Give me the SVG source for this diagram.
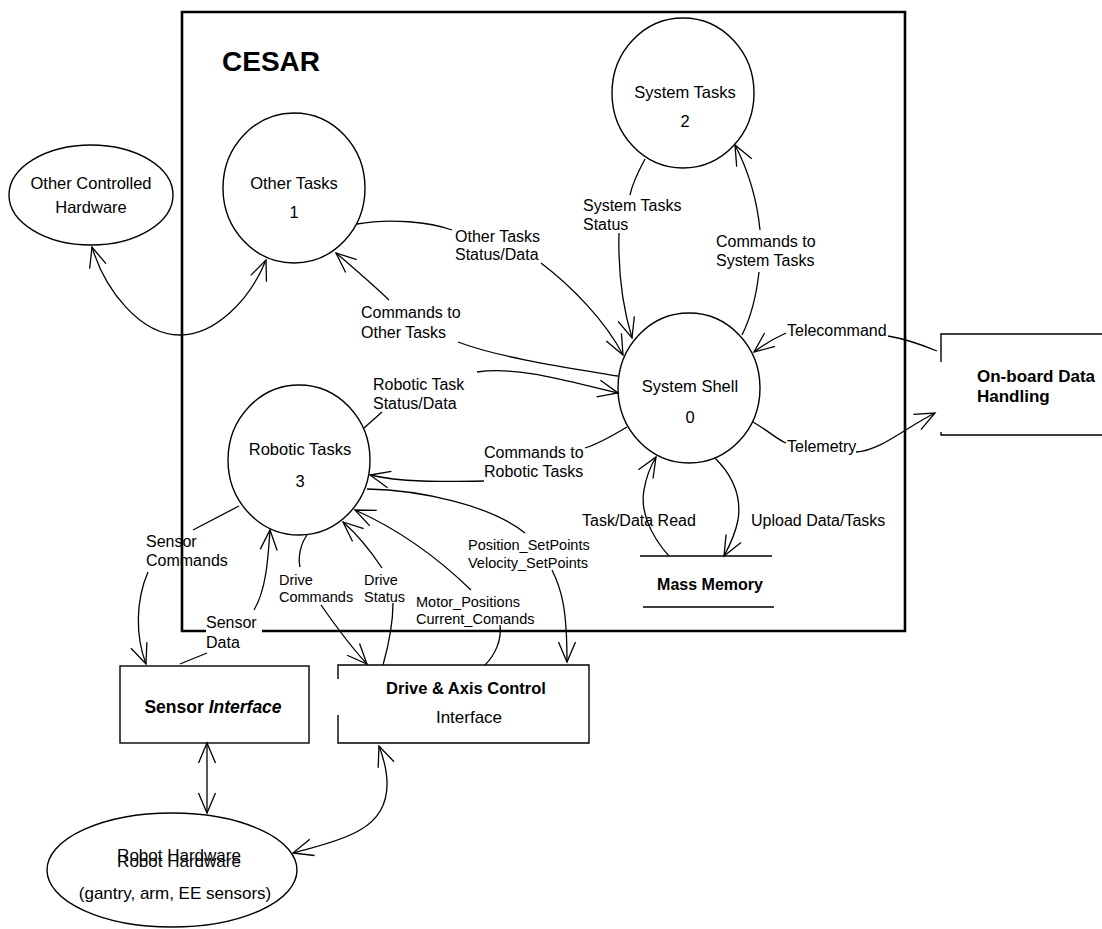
<svg xmlns="http://www.w3.org/2000/svg" width="1102" height="929" viewBox="0 0 1102 929">
<style>
text{font-family:"Liberation Sans",Arial,sans-serif;fill:#000}
.lbl{font-size:16px}
.sm{font-size:14.5px}
.nd{font-size:16.5px;text-anchor:middle}
.b{font-weight:bold}
.shape{fill:none;stroke:#000;stroke-width:1.4}
.conn path{fill:none;stroke:#000;stroke-width:1.3}
.a{marker-end:url(#arr)}
.aa{marker-start:url(#arr);marker-end:url(#arr)}
</style>
<defs>
<marker id="arr" markerUnits="userSpaceOnUse" markerWidth="50" markerHeight="50" refX="0" refY="0" viewBox="-25 -25 50 50" orient="auto-start-reverse" overflow="visible">
<path d="M-20,-8.5 L0,0 L-20,8.5" fill="none" stroke="#000" stroke-width="1.3"/>
</marker>
</defs>
<rect width="1102" height="929" fill="#fff"/>

<g id="cesar">
<path d="M262,631 H905 V12 H182 V631 H206" fill="none" stroke="#000" stroke-width="2.6"/>
<text x="222" y="71" class="b" font-size="28">CESAR</text>
</g>

<g id="other-hw">
<ellipse cx="91" cy="195" rx="82" ry="50" class="shape"/>
<text x="91" y="189" class="nd">Other Controlled</text>
<text x="91" y="213" class="nd">Hardware</text>
</g>

<g id="other-tasks">
<ellipse cx="294" cy="188" rx="71" ry="75" class="shape"/>
<text x="294" y="189" class="nd">Other Tasks</text>
<text x="294" y="218" class="nd">1</text>
</g>

<g id="system-tasks">
<ellipse cx="683" cy="93" rx="71" ry="75" class="shape"/>
<text x="685" y="98" class="nd">System Tasks</text>
<text x="685" y="127" class="nd">2</text>
</g>

<g id="system-shell">
<ellipse cx="689" cy="388" rx="71" ry="75" class="shape"/>
<text x="690" y="392" class="nd">System Shell</text>
<text x="690" y="423" class="nd">0</text>
</g>

<g id="robotic-tasks">
<ellipse cx="299" cy="460" rx="71" ry="75" class="shape"/>
<text x="300" y="455" class="nd">Robotic Tasks</text>
<text x="300" y="487" class="nd">3</text>
</g>

<g id="onboard">
<path d="M1102,334 H941 V362 M941,432 V435 H1102" class="shape"/>
<text x="977" y="382" class="b" font-size="17">On-board Data</text>
<text x="977" y="402" class="b" font-size="17">Handling</text>
</g>

<g id="mass-memory">
<path d="M640,556 H772 M643,607 H774" class="shape"/>
<text x="710" y="590" class="b" font-size="16" text-anchor="middle">Mass Memory</text>
</g>

<g id="sensor-interface">
<rect x="120" y="666" width="189" height="77" class="shape"/>
<text x="213" y="713" class="b" font-size="17.5" text-anchor="middle">Sensor <tspan font-style="italic">Interface</tspan></text>
</g>

<g id="drive-interface">
<path d="M338,679 V665 H589 V743 H338 V715" class="shape"/>
<text x="466" y="694" class="b" font-size="16.5" text-anchor="middle">Drive &amp; Axis Control</text>
<text x="469" y="723" font-size="17" text-anchor="middle">Interface</text>
</g>

<g id="robot-hw">
<ellipse cx="172" cy="870" rx="125" ry="57" class="shape"/>
<text x="179" y="861" font-size="17" text-anchor="middle">Robot Hardware</text>
<text x="179" y="867" font-size="17" text-anchor="middle">Robot Hardware</text>
<text x="175" y="899" font-size="17" text-anchor="middle">(gantry, arm, EE sensors)</text>
</g>

<g id="connectors" class="conn">
<path class="aa" d="M92,247 C105,290 140,335 180,335 C215,335 250,300 266,260"/>
<path d="M357,224 C390,218 430,222 452,230"/>
<path class="a" d="M541,263 C570,285 605,320 623,355"/>
<path d="M645,159 C638,172 632,185 630,195"/>
<path class="a" d="M619,233 C618,270 622,305 632,338"/>
<path d="M742,335 C752,315 757,290 759,272"/>
<path class="a" d="M760,230 C757,200 748,170 735,145"/>
<path d="M618,376 C570,368 500,358 458,342"/>
<path class="a" d="M389,300 C370,282 350,265 336,253"/>
<path d="M364,428 L382,412"/>
<path class="a" d="M477,372 C520,366 570,382 618,393"/>
<path d="M627,427 C612,436 598,444 585,448"/>
<path class="a" d="M484,481 C440,482 400,482 370,475"/>
<path d="M937,351 C920,344 900,338 888,336"/>
<path class="a" d="M786,333 C775,338 763,345 754,352"/>
<path d="M753,422 C770,432 778,440 786,443"/>
<path class="a" d="M856,452 C880,451 905,428 935,413"/>
<path class="a" d="M669,556 C650,535 640,510 644,490 C646,478 650,467 656,457"/>
<path class="a" d="M715,458 C732,475 742,495 738,520 C735,535 730,545 724,556"/>
<path d="M239,506 L193,530"/>
<path class="a" d="M148,572 C136,600 135,635 146,664"/>
<path d="M180,664 L207,653"/>
<path class="a" d="M254,610 C266,590 268,560 270,530"/>
<path d="M307,535 C300,545 298,558 300,567"/>
<path class="a" d="M321,605 C335,625 352,648 367,664"/>
<path d="M383,665 C390,640 393,620 393,603"/>
<path class="a" d="M382,568 C370,550 358,535 343,522"/>
<path d="M485,665 C495,655 502,640 500,625"/>
<path class="a" d="M471,590 C440,560 400,530 355,510"/>
<path d="M367,489 C420,490 490,505 525,533"/>
<path class="a" d="M552,570 C562,590 567,610 567,662"/>
<path class="aa" d="M207,743 L207,813"/>
<path class="aa" d="M379,746 C390,775 395,810 360,830 C340,842 310,848 293,853"/>
</g>

<g id="labels">
<text x="455" y="242" class="lbl">Other Tasks</text>
<text x="455" y="260" class="lbl">Status/Data</text>
<text x="361" y="318" class="lbl">Commands to</text>
<text x="361" y="338" class="lbl">Other Tasks</text>
<text x="583" y="211" class="lbl">System Tasks</text>
<text x="583" y="230" class="lbl">Status</text>
<text x="716" y="247" class="lbl">Commands to</text>
<text x="716" y="266" class="lbl">System Tasks</text>
<text x="373" y="390" class="lbl">Robotic Task</text>
<text x="373" y="409" class="lbl">Status/Data</text>
<text x="484" y="458" class="lbl">Commands to</text>
<text x="484" y="477" class="lbl">Robotic Tasks</text>
<text x="787" y="336" class="lbl">Telecommand</text>
<text x="787" y="452" class="lbl">Telemetry</text>
<text x="582" y="526" class="lbl">Task/Data Read</text>
<text x="751" y="526" class="lbl">Upload Data/Tasks</text>
<text x="146" y="547" class="lbl">Sensor</text>
<text x="146" y="566" class="lbl">Commands</text>
<text x="206" y="628" class="lbl">Sensor</text>
<text x="206" y="648" class="lbl">Data</text>
<text x="279" y="585" class="sm">Drive</text>
<text x="279" y="602" class="sm">Commands</text>
<text x="364" y="585" class="sm">Drive</text>
<text x="364" y="602" class="sm">Status</text>
<text x="416" y="607" class="sm">Motor_Positions</text>
<text x="416" y="624" class="sm">Current_Comands</text>
<text x="468" y="550" class="sm">Position_SetPoints</text>
<text x="468" y="568" class="sm">Velocity_SetPoints</text>
</g>
</svg>
